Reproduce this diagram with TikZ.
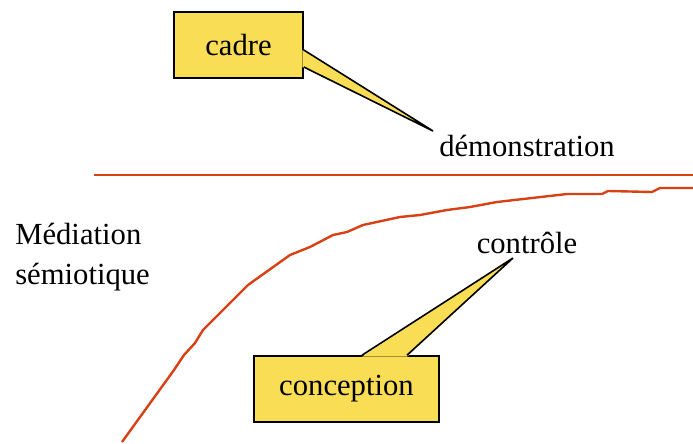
\documentclass[tikz,border=0pt]{standalone}
\usepackage{fontspec}
\setmainfont{Liberation Serif}
\usepackage{tikz}
\usetikzlibrary{calc, positioning}
\definecolor{jaune}{RGB}{249, 221, 85}
\definecolor{rouge}{RGB}{215, 65, 20}
\tikzset{
    boxnode/.style = {draw, rectangle, fill=jaune, line width=1.2pt, inner sep=0em,
      font=\fontsize{23}{28}\selectfont},
    textnode/.style = {draw=none, fill=none, rectangle, inner sep=0em,
      font=\fontsize{23}{30}\selectfont, align=left},
    tailfill/.style = {fill=jaune},
    tailedge/.style = {black, line width=1.2pt},
    redline/.style = {rouge, line width=1.8pt, line join=round}
}

\begin{document}
\begin{tikzpicture}[x=0.75pt, y=-0.75pt]
    \useasboundingbox (0,0) rectangle (693,443);

    % labels
    \node [name=demo, textnode] at (527,146) {démonstration};
    \node [name=ctrl, textnode] at (527,243) {contrôle};
    \node [name=media, textnode, anchor=west] at (15,257) {Médiation\\sémiotique};

    % red line and curve
    \coordinate (lineleft) at (94,175);
    \coordinate (lineright) at (693,175);
    \draw [redline] (lineleft) -- (lineright);
    \draw [redline] (122,442) -- (174,370) -- (184,355) -- (195,343) -- (203,330)
        -- (248,285) -- (290,255) -- (310,247) -- (333,235) -- (347,232) -- (363,225)
        -- (400,217) -- (420,215) -- (447,210) -- (470,207) -- (497,202)
        -- (567,194) -- (602,194) -- (608,191) -- (652,192) -- (660,188) -- (693,188);

    % callout boxes
    \node [name=cadre, boxnode, minimum width=129*0.75pt, minimum height=66*0.75pt]
        at (238.5,45) {cadre};
    \node [name=concep, boxnode, minimum width=185*0.75pt, minimum height=66*0.75pt]
        at (346.5,389) {conception};

    \coordinate (demtip) at (433,131);
    \coordinate (ctrltip) at (513,258);

    \fill [tailfill] ($(cadre.east)+(-1.5,5)$) -- (demtip) -- ($(cadre.east)+(-1.5,22)$) -- cycle;
    \draw [tailedge] ($(cadre.east)+(0,5)$) -- (demtip) -- ($(cadre.east)+(0,22)$);

    \fill [tailfill] ($(concep.north)+(15.5,1.5)$) -- (ctrltip) -- ($(concep.north)+(60.5,1.5)$) -- cycle;
    \draw [tailedge] ($(concep.north)+(15.5,0)$) -- (ctrltip) -- ($(concep.north)+(60.5,0)$);
\end{tikzpicture}
\end{document}
